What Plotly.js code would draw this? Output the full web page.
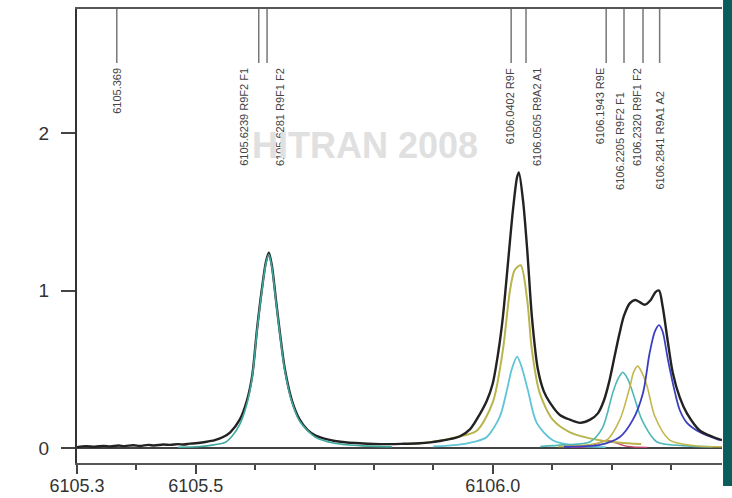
<!DOCTYPE html>
<html>
<head>
<meta charset="utf-8">
<script src="https://cdn.plot.ly/plotly-3.0.1.min.js"></script>
<style>html,body{margin:0;padding:0;background:#fff;}</style>
</head>
<body>
<div id="chart" style="width:732px;height:498px;"></div>
<script>
// ---- data ----
// total (measured) spectrum
const totalX = [6105.300,6105.315,6105.330,6105.345,6105.356,6105.370,6105.380,6105.395,6105.406,6105.420,6105.430,6105.445,6105.457,6105.470,6105.480,6105.490,6105.500,6105.516,6105.532,6105.546,6105.558,6105.574,6105.586,6105.595,6105.603,6105.611,6105.618,6105.623,6105.628,6105.635,6105.642,6105.650,6105.662,6105.675,6105.688,6105.701,6105.718,6105.734,6105.755,6105.776,6105.800,6105.827,6105.850,6105.877,6105.895,6105.911,6105.930,6105.945,6105.962,6105.979,6105.990,6106.000,6106.009,6106.017,6106.026,6106.034,6106.041,6106.044,6106.051,6106.058,6106.066,6106.076,6106.086,6106.096,6106.113,6106.130,6106.147,6106.164,6106.177,6106.187,6106.196,6106.205,6106.213,6106.221,6106.231,6106.240,6106.248,6106.256,6106.266,6106.274,6106.280,6106.286,6106.295,6106.303,6106.315,6106.327,6106.349,6106.371,6106.386];
const totalY = [0.006,0.012,0.008,0.014,0.010,0.016,0.012,0.018,0.013,0.020,0.016,0.022,0.020,0.025,0.022,0.028,0.030,0.038,0.050,0.070,0.100,0.180,0.300,0.460,0.750,1.000,1.180,1.240,1.160,0.940,0.720,0.500,0.300,0.180,0.115,0.080,0.058,0.045,0.035,0.030,0.026,0.025,0.027,0.030,0.036,0.045,0.058,0.075,0.120,0.220,0.300,0.410,0.600,0.830,1.190,1.510,1.720,1.750,1.570,1.260,0.830,0.500,0.360,0.290,0.210,0.180,0.160,0.180,0.220,0.300,0.420,0.580,0.720,0.840,0.920,0.940,0.925,0.910,0.940,0.990,1.000,0.900,0.670,0.480,0.320,0.220,0.110,0.070,0.050];

// component lines
const teal1X = [6105.470,6105.507,6105.530,6105.549,6105.562,6105.574,6105.586,6105.595,6105.603,6105.611,6105.618,6105.623,6105.628,6105.635,6105.642,6105.650,6105.662,6105.675,6105.701,6105.734,6105.776,6105.830];
const teal1Y = [0.005,0.010,0.020,0.035,0.080,0.150,0.280,0.450,0.740,0.990,1.170,1.230,1.150,0.930,0.710,0.490,0.290,0.170,0.070,0.030,0.015,0.008];

const cyan1X = [6105.900,6105.940,6105.970,6105.990,6106.012,6106.024,6106.032,6106.041,6106.049,6106.059,6106.074,6106.101,6106.140,6106.190];
const cyan1Y = [0.010,0.020,0.040,0.070,0.200,0.370,0.500,0.580,0.510,0.370,0.160,0.050,0.015,0.006];

const olive1X = [6105.860,6105.900,6105.940,6105.973,6106.000,6106.017,6106.029,6106.037,6106.047,6106.058,6106.066,6106.079,6106.101,6106.130,6106.180,6106.250];
const olive1Y = [0.025,0.040,0.070,0.110,0.290,0.620,1.000,1.130,1.160,0.940,0.620,0.350,0.180,0.100,0.050,0.025];

const cyan2X = [6106.080,6106.120,6106.164,6106.185,6106.202,6106.211,6106.219,6106.227,6106.236,6106.251,6106.276,6106.320,6106.370];
const cyan2Y = [0.010,0.020,0.040,0.130,0.350,0.440,0.480,0.440,0.350,0.180,0.040,0.015,0.008];

const olive2X = [6106.110,6106.160,6106.192,6106.214,6106.231,6106.237,6106.244,6106.251,6106.260,6106.273,6106.298,6106.340,6106.386];
const olive2Y = [0.010,0.020,0.050,0.180,0.390,0.480,0.520,0.480,0.390,0.200,0.050,0.015,0.008];

const blueX = [6106.120,6106.180,6106.214,6106.236,6106.253,6106.264,6106.273,6106.280,6106.286,6106.295,6106.307,6106.315,6106.327,6106.349,6106.382];
const blueY = [0.008,0.020,0.070,0.180,0.350,0.600,0.740,0.780,0.740,0.560,0.350,0.240,0.160,0.100,0.050];

const redX = [6106.130,6106.164,6106.180,6106.192,6106.206,6106.227,6106.260];
const redY = [0.004,0.010,0.035,0.050,0.035,0.010,0.004];

// HITRAN 2008 line positions and labels
const stickX = [6105.367,6105.606,6105.620,6106.031,6106.056,6106.191,6106.221,6106.253,6106.281];
const stickLabels = ["6105.369","6105.6239 R9F2 F1","6105.6281 R9F1 F2","6106.0402 R9F","6106.0505 R9A2 A1","6106.1943 R9E","6106.2205 R9F2 F1","6106.2320 R9F1 F2","6106.2841 R9A1 A2"];

const xTickVals = [6105.3, 6105.5, 6106.0];
const xTickText = ["6105.3", "6105.5", "6106.0"];
const yTickVals = [0, 1, 2];
const yTickText = ["0", "1", "2"];
const watermark = "HITRAN 2008";

// ---- styles ----
const labelShift = [0, -15, 13, -1, 11, -6, -4, -6, 0];
const labelLow = [false, false, false, false, false, false, true, false, true];
const Y_MAX = 2.787, Y_MIN = -0.095;
const STICK_END = 2.444;

function comp(x, y, color, w) {
  return {x: x, y: y, type: 'scatter', mode: 'lines', line: {color: color, width: w || 1.5, shape: 'spline', smoothing: 0.8}, hoverinfo: 'skip', showlegend: false};
}

const sx = [], sy = [];
stickX.forEach(v => { sx.push(v, v, null); sy.push(Y_MAX, STICK_END, null); });

const traces = [
  comp(redX, redY, '#c8406e', 1.3),
  comp(olive1X, olive1Y, '#b9b44c', 2),
  comp(cyan1X, cyan1Y, '#5fc4d6', 1.8),
  comp(cyan2X, cyan2Y, '#4db8b8', 1.6),
  comp(olive2X, olive2Y, '#c2b84e', 1.6),
  comp(blueX, blueY, '#3b3fbf', 1.8),
  comp(totalX, totalY, '#222222', 2.4),
  comp(teal1X, teal1Y, '#3fa89e', 1.6),
  {x: sx, y: sy, type: 'scatter', mode: 'lines', line: {color: '#777', width: 1.5}, hoverinfo: 'skip', showlegend: false}
];

const annotations = [];
stickLabels.forEach((t, i) => annotations.push({
  x: stickX[i], y: labelLow[i] ? 2.273 : 2.425, xref: 'x', yref: 'y',
  text: t, showarrow: false, textangle: -90, xanchor: 'center', yanchor: 'top',
  xshift: labelShift[i], font: {family: 'Liberation Sans, Arial', size: 11, color: '#444'}
}));
annotations.push({
  x: 0.447, y: 0.70, xref: 'paper', yref: 'paper', showarrow: false,
  text: '<b>' + watermark + '</b>', xanchor: 'center', yanchor: 'middle',
  font: {family: 'Liberation Sans, Arial', size: 36, color: '#e0e0e0'}
});

const layout = {
  width: 732, height: 498,
  margin: {l: 77, r: 10, t: 9, b: 35},
  paper_bgcolor: '#fff', plot_bgcolor: '#fff',
  showlegend: false,
  xaxis: {
    range: [6105.3, 6106.386], showgrid: false, zeroline: false,
    showline: true, linecolor: '#555', linewidth: 2, mirror: true,
    ticks: 'outside', ticklen: 9, tickwidth: 2, tickcolor: '#444',
    tickmode: 'array', tickvals: xTickVals, ticktext: xTickText,
    ticklabelstandoff: -4,
    tickfont: {family: 'Liberation Sans, Arial', size: 18, color: '#333'},
    minor: {tick0: 6105.3, dtick: 0.1, ticks: 'outside', ticklen: 5, tickwidth: 2, tickcolor: '#444', showgrid: false}
  },
  yaxis: {
    range: [Y_MIN, Y_MAX], showgrid: false,
    zeroline: true, zerolinecolor: '#444', zerolinewidth: 2,
    showline: true, linecolor: '#333', linewidth: 2,
    ticks: 'outside', ticklen: 14, tickwidth: 2, tickcolor: '#444',
    tickmode: 'array', tickvals: yTickVals, ticktext: yTickText,
    ticklabelstandoff: 8,
    tickfont: {family: 'Liberation Sans, Arial', size: 19, color: '#333'}
  },
  annotations: annotations,
  shapes: [
    {type: 'rect', xref: 'paper', yref: 'paper', x0: 1.0016, x1: 1.03, y0: 1.03, y1: -0.0507, fillcolor: '#0b5d5b', line: {width: 0}, layer: 'above'}
  ]
};

Plotly.newPlot('chart', traces, layout, {displayModeBar: false, staticPlot: true});
</script>
</body>
</html>
